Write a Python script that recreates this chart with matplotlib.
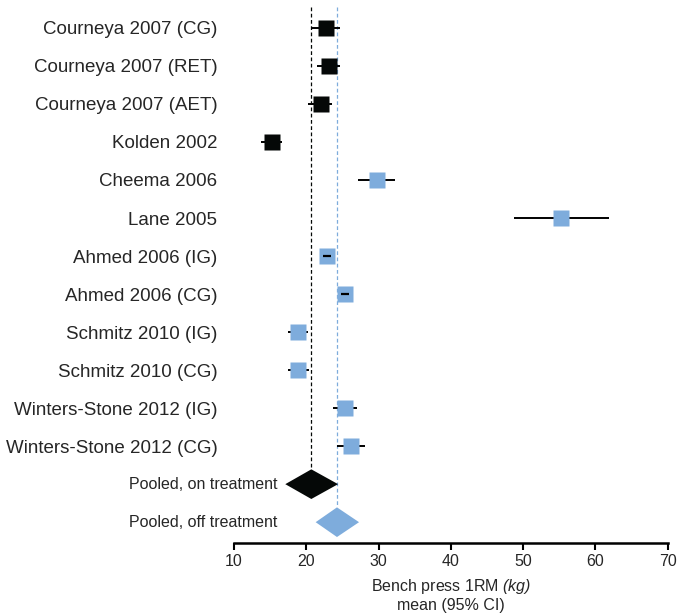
import matplotlib
matplotlib.use("Agg")
import matplotlib.pyplot as plt
import numpy as np

plt.rcParams['font.family'] = ['Liberation Sans', 'DejaVu Sans']
plt.rcParams['mathtext.fontset'] = 'custom'
plt.rcParams['mathtext.rm'] = 'Liberation Sans:italic'
plt.rcParams['mathtext.it'] = 'Liberation Sans:italic'

studies = ["Courneya 2007 (CG)", "Courneya 2007 (RET)", "Courneya 2007 (AET)",
           "Kolden 2002", "Cheema 2006", "Lane 2005", "Ahmed 2006 (IG)",
           "Ahmed 2006 (CG)", "Schmitz 2010 (IG)", "Schmitz 2010 (CG)",
           "Winters-Stone 2012 (IG)", "Winters-Stone 2012 (CG)"]
means = [22.7, 23.1, 22.0, 15.3, 29.8, 55.2, 22.9, 25.35, 18.85, 18.85, 25.35, 26.2]
lower = [20.7, 21.5, 20.2, 13.7, 27.2, 48.7, 22.35, 24.8, 17.5, 17.5, 23.7, 24.25]
upper = [24.6, 24.6, 23.6, 16.7, 32.3, 61.9, 23.4, 25.9, 20.2, 20.4, 27.0, 28.1]
on_treatment = [True, True, True, True, False, False, False, False, False, False, False, False]

pooled_labels = ["Pooled, on treatment", "Pooled, off treatment"]
pooled_mean = [20.7, 24.25]
pooled_lo = [17.1, 21.3]
pooled_hi = [24.4, 27.3]

xticks = [10, 20, 30, 40, 50, 60, 70]

black = "#050807"
blue = "#7eacdc"
text_col = "#262626"

fig = plt.figure(figsize=(6.78, 6.14), dpi=100)
ax = fig.add_axes([0.3451, 0.1161, 0.6397, 0.8725])

n = len(studies)
rows = np.arange(n)
sq_half = 0.9  # half width of square in data units (approx)
for i in rows:
    col = black if on_treatment[i] else blue
    small = (upper[i] - lower[i]) / 2 < sq_half
    ax.plot([lower[i], upper[i]], [i, i], color="black", lw=1.6 if small else 1.4,
            zorder=4 if small else 2, solid_capstyle='butt')
    ax.plot(means[i], i, marker='s', ms=11.8, color=col, mec='none', zorder=3)

dh = 0.39
for k in range(2):
    y = n + k
    col = black if k == 0 else blue
    ax.fill([pooled_lo[k], pooled_mean[k], pooled_hi[k], pooled_mean[k]],
            [y, y - dh, y, y + dh], color=col, lw=0, zorder=3)
    # pooled labels sit inside the axes, right-aligned near x=16
    ax.text(16.0, y, pooled_labels[k], ha='right', va='center', fontsize=11.5,
            color=text_col)

ax.plot([pooled_mean[0]] * 2, [-0.55, n - dh], color=black, lw=0.9,
        ls=(0, (3, 2)), zorder=1)
ax.plot([pooled_mean[1]] * 2, [-0.55, n + 1 - dh], color=blue, lw=0.9,
        ls=(0, (3, 2)), zorder=1)

ax.set_xlim(10, 70)
ax.set_ylim(n + 1.54, -0.55)
ax.set_xticks(xticks)
ax.set_xticklabels([str(t) for t in xticks], fontsize=11.5, color=text_col)
ax.set_yticks(rows)
ax.set_yticklabels(studies, fontsize=13.5, color=text_col)
ax.tick_params(axis='y', length=0, pad=12)
ax.tick_params(axis='x', length=5, width=1.5, direction='out', pad=3)
for s in ['left', 'right', 'top']:
    ax.spines[s].set_visible(False)
ax.spines['bottom'].set_linewidth(1.8)
ax.set_xlabel("Bench press 1RM $(kg)$\nmean (95% CI)", fontsize=11.5,
              color=text_col, labelpad=6, linespacing=1.15)

fig.savefig("out.png", dpi=100)
